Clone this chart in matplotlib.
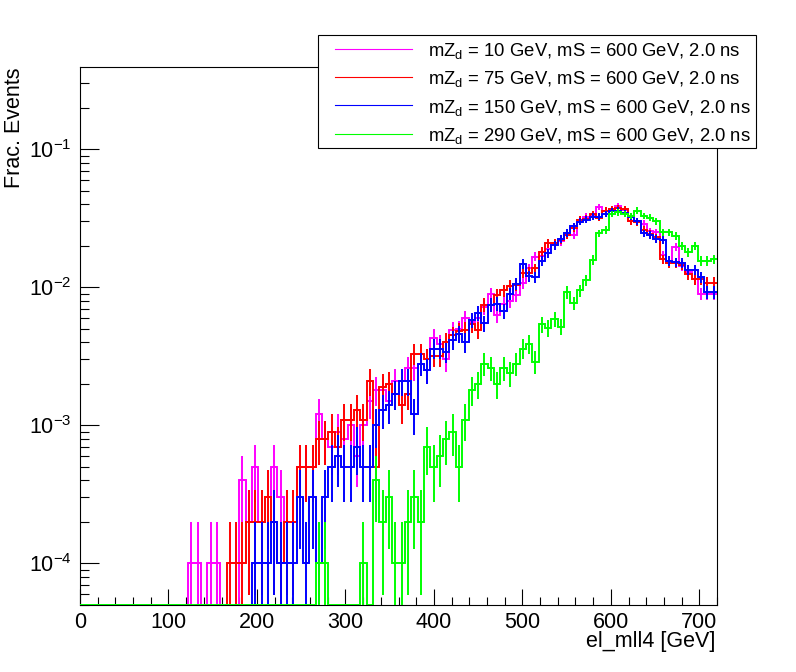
import numpy as np
import matplotlib
matplotlib.use('Agg')
import matplotlib.pyplot as plt
from matplotlib.lines import Line2D
from matplotlib.patches import Rectangle
from matplotlib.ticker import LogLocator, MultipleLocator, NullFormatter

plt.rcParams['font.family'] = ['Liberation Sans', 'DejaVu Sans']
plt.rcParams['mathtext.fontset'] = 'custom'
plt.rcParams['mathtext.rm'] = 'Liberation Sans'
plt.rcParams['mathtext.it'] = 'Liberation Sans:italic'
plt.rcParams['mathtext.default'] = 'regular'

# binning of el_mll4: 100 bins from 0 to 720 GeV
x_lo, x_hi, n_bins = 0, 720, 100
n_events = 10000  # normalisation used for the error bars

# fraction of events per bin
mzd10 = [
    0, 0, 0, 0, 0, 0, 0, 0, 0, 0,
    0, 0, 0, 0, 0, 0, 0, 1e-4, 1e-4, 0,
    1e-4, 1e-4, 0, 0, 0, 4e-4, 2e-4, 5e-4, 2e-4, 3e-4,
    5e-4, 3e-4, 2e-4, 2e-4, 5e-4, 5e-4, 5e-4, 1.2e-3, 8e-4, 7e-4,
    9e-4, 8e-4, 1.0e-3, 6e-4, 1.0e-3, 1.5e-3, 1.8e-3, 1.8e-3, 1.5e-3, 2.1e-3,
    2.1e-3, 2.6e-3, 2.6e-3, 2.8e-3, 2.5e-3, 4.3e-3, 3.9e-3, 3.0e-3, 4.9e-3, 5.0e-3,
    6.0e-3, 5.6e-3, 6.0e-3, 7.2e-3, 8.9e-3, 6.3e-3, 7.6e-3, 8.0e-3, 8.8e-3, 1.08e-2,
    1.37e-2, 1.67e-2, 1.7e-2, 1.9e-2, 2.05e-2, 2.15e-2, 2.45e-2, 2.4e-2, 3.1e-2, 3.25e-2,
    3.3e-2, 3.8e-2, 3.55e-2, 3.58e-2, 3.9e-2, 3.65e-2, 3.0e-2, 3.0e-2, 2.9e-2, 2.55e-2,
    2.5e-2, 1.71e-2, 1.56e-2, 1.97e-2, 1.43e-2, 1.29e-2, 1.15e-2, 9.0e-3, 9.0e-3, 9.0e-3,
]
mzd75 = [
    0, 0, 0, 0, 0, 0, 0, 0, 0, 0,
    0, 0, 0, 0, 0, 0, 0, 0, 0, 0,
    0, 0, 0, 1e-4, 1e-4, 1e-4, 2e-4, 2e-4, 2e-4, 3e-4,
    2e-4, 1e-4, 2e-4, 2e-4, 5e-4, 5e-4, 5e-4, 8e-4, 8e-4, 9e-4,
    7e-4, 1.1e-3, 1.1e-3, 1.3e-3, 1.1e-3, 2.1e-3, 5e-4, 1.9e-3, 2.0e-3, 1.7e-3,
    1.4e-3, 1.7e-3, 3.3e-3, 3.3e-3, 3.0e-3, 3.2e-3, 3.2e-3, 4.0e-3, 4.5e-3, 4.8e-3,
    4.9e-3, 5.4e-3, 4.9e-3, 7.5e-3, 7.5e-3, 8.8e-3, 9.5e-3, 1.02e-2, 1.04e-2, 1.28e-2,
    1.28e-2, 1.37e-2, 1.81e-2, 2.08e-2, 2.1e-2, 2.2e-2, 2.4e-2, 2.7e-2, 3.1e-2, 3.15e-2,
    3.4e-2, 3.2e-2, 3.6e-2, 3.7e-2, 3.75e-2, 3.7e-2, 3.0e-2, 2.95e-2, 2.6e-2, 2.45e-2,
    2.3e-2, 1.6e-2, 1.5e-2, 1.5e-2, 1.45e-2, 1.25e-2, 1.15e-2, 1.15e-2, 1.08e-2, 1.08e-2,
]
mzd150 = [
    0, 0, 0, 0, 0, 0, 0, 0, 0, 0,
    0, 0, 0, 0, 0, 0, 0, 0, 0, 0,
    0, 0, 0, 0, 0, 0, 0, 1e-4, 1e-4, 1e-4,
    2e-4, 1e-4, 1e-4, 1e-4, 3e-4, 1e-4, 3e-4, 1e-4, 3e-4, 5e-4,
    6e-4, 5e-4, 5e-4, 7e-4, 5e-4, 5e-4, 1.0e-3, 1.3e-3, 1.4e-3, 1.7e-3,
    2.1e-3, 2.1e-3, 1.2e-3, 2.8e-3, 2.5e-3, 3.6e-3, 3.6e-3, 3.4e-3, 4.15e-3, 4.6e-3,
    4.0e-3, 5.8e-3, 6.5e-3, 5.5e-3, 7.45e-3, 7.6e-3, 6.7e-3, 9.0e-3, 1.06e-2, 1.48e-2,
    1.21e-2, 1.18e-2, 1.56e-2, 1.76e-2, 2.02e-2, 2.23e-2, 2.49e-2, 2.78e-2, 2.99e-2, 3.1e-2,
    3.25e-2, 3.25e-2, 3.4e-2, 3.58e-2, 3.6e-2, 3.45e-2, 3.25e-2, 3.0e-2, 2.46e-2, 2.4e-2,
    2.23e-2, 2.2e-2, 1.56e-2, 1.52e-2, 1.5e-2, 1.34e-2, 1.34e-2, 1.18e-2, 9.2e-3, 9.2e-3,
]
mzd290 = [
    0, 0, 0, 0, 0, 0, 0, 0, 0, 0,
    0, 0, 0, 0, 0, 0, 0, 0, 0, 0,
    0, 0, 0, 0, 0, 0, 0, 0, 0, 0,
    0, 0, 0, 0, 0, 0, 0, 1e-4, 1e-4, 0,
    0, 0, 0, 0, 1e-4, 0, 4e-4, 2e-4, 3e-4, 1e-4,
    1e-4, 2e-4, 3e-4, 2e-4, 7e-4, 5e-4, 6e-4, 8e-4, 9e-4, 5e-4,
    1.1e-3, 1.8e-3, 2.0e-3, 2.8e-3, 2.6e-3, 2.0e-3, 2.6e-3, 2.4e-3, 2.8e-3, 3.6e-3,
    3.9e-3, 2.9e-3, 5.4e-3, 5.1e-3, 5.9e-3, 5.2e-3, 9.2e-3, 7.7e-3, 9.5e-3, 1.13e-2,
    1.58e-2, 2.46e-2, 2.61e-2, 3.4e-2, 3.5e-2, 3.4e-2, 3.3e-2, 3.6e-2, 3.3e-2, 3.2e-2,
    3.0e-2, 2.5e-2, 2.5e-2, 2.35e-2, 2.0e-2, 1.8e-2, 2.0e-2, 1.56e-2, 1.55e-2, 1.6e-2,
]

labels = [
    'mZ$_{d}$ = 10 GeV, mS = 600 GeV, 2.0 ns',
    'mZ$_{d}$ = 75 GeV, mS = 600 GeV, 2.0 ns',
    'mZ$_{d}$ = 150 GeV, mS = 600 GeV, 2.0 ns',
    'mZ$_{d}$ = 290 GeV, mS = 600 GeV, 2.0 ns',
]
colors = ['#ff00ff', '#ff0000', '#0000ff', '#00ff00']
series = [mzd10, mzd75, mzd150, mzd290]

y_min, y_max = 4.99e-5, 0.395
W, H = 796, 672

edges = np.linspace(x_lo, x_hi, n_bins + 1)
centers = 0.5 * (edges[:-1] + edges[1:])

fig = plt.figure(figsize=(W / 100, H / 100), dpi=100)
ax = fig.add_axes([80 / W, 1 - 605 / H, 637 / W, 538 / H])
ax.set_yscale('log')

for vals, col in zip(series, colors):
    vals = np.asarray(vals, dtype=float)
    # empty bins sit on the bottom of the frame, like ROOT does
    shown = np.where(vals > 0, vals, y_min)
    ax.stairs(shown, edges, baseline=None, color=col, lw=1.4, zorder=3)
    ok = vals > 0
    err = np.sqrt(vals[ok] / n_events)
    lower = np.minimum(err, vals[ok] - 1e-9)
    ax.errorbar(centers[ok], vals[ok], yerr=[lower, err], fmt='none',
                ecolor=col, elinewidth=1.4, capsize=0, zorder=3)

ax.set_xlim(x_lo, x_hi)
ax.set_ylim(y_min, y_max)

ax.xaxis.set_major_locator(MultipleLocator(100))
ax.xaxis.set_minor_locator(MultipleLocator(20))
ax.yaxis.set_major_locator(LogLocator(base=10, numticks=20))
ax.yaxis.set_minor_locator(LogLocator(base=10, subs=np.arange(2, 10), numticks=20))
ax.yaxis.set_minor_formatter(NullFormatter())

ax.tick_params(axis='both', which='both', direction='in', top=False, right=False,
               width=0.8, labelsize=15.5, colors='black')
ax.tick_params(axis='x', which='major', length=11.5, pad=5)
ax.tick_params(axis='x', which='minor', length=5.8)
ax.tick_params(axis='y', which='major', length=13.7, pad=6)
ax.tick_params(axis='y', which='minor', length=6.8)
for sp in ax.spines.values():
    sp.set_linewidth(0.8)

fig.text(715 / W, 1 - 647 / H, 'el_mll4 [GeV]', ha='right', va='baseline', fontsize=15.5)
fig.text(15 / W, 1 - 67 / H, 'Frac. Events', rotation=90, ha='center', va='top', fontsize=15.5)

# legend box, drawn over the frame
box = Rectangle((318 / W, 1 - 148 / H), (756 - 318) / W, (148 - 35) / H,
                transform=fig.transFigure, facecolor='white', edgecolor='black',
                lw=0.8, zorder=10)
fig.add_artist(box)
for k, (lab, col) in enumerate(zip(labels, colors)):
    yl = 48.5 + k * 28.4
    fig.add_artist(Line2D([335 / W, 412 / W], [1 - yl / H, 1 - yl / H],
                          transform=fig.transFigure, color=col, lw=0.8, zorder=11))
    fig.text(428 / W, 1 - (yl + 7.5) / H, lab, ha='left', va='baseline',
             fontsize=13.3, zorder=11)

fig.savefig('out.png', dpi=100)
